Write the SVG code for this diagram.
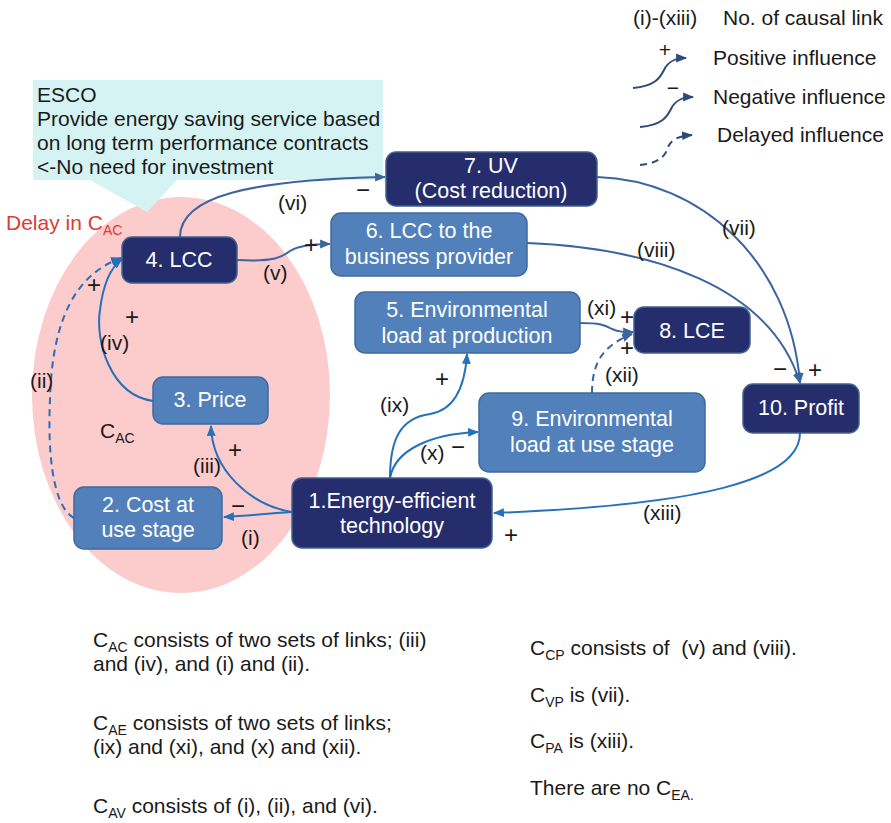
<svg xmlns="http://www.w3.org/2000/svg" width="891" height="823" viewBox="0 0 891 823">
  <defs>
    <marker id="ahA" markerUnits="userSpaceOnUse" markerWidth="11" markerHeight="11" viewBox="0 0 10 10" refX="9" refY="5" orient="auto">
      <path d="M0,1 L10,5 L0,9 z" fill="#3b64a0"/>
    </marker>
    <marker id="ahB" markerUnits="userSpaceOnUse" markerWidth="11" markerHeight="11" viewBox="0 0 10 10" refX="9" refY="5" orient="auto">
      <path d="M0,1 L10,5 L0,9 z" fill="#2471bc"/>
    </marker>
    <marker id="ahL" markerUnits="userSpaceOnUse" markerWidth="11" markerHeight="11" viewBox="0 0 10 10" refX="9" refY="5" orient="auto">
      <path d="M0,1 L10,5 L0,9 z" fill="#2c4b7b"/>
    </marker>
  </defs>
  <style>
    text { font-family: "Liberation Sans", Arial, sans-serif; font-size: 21px; fill: #1a1a1a; }
    .nt { fill: #ffffff; text-anchor: middle; font-size: 21.5px; }
    .pm { font-size: 24px; text-anchor: middle; }
    .dark { fill: #252d6c; stroke: #41608f; stroke-width: 1.5; }
    .mid { fill: #5180bb; stroke: #3f6a9e; stroke-width: 1.5; }
    .ca { fill: none; stroke: #3b64a0; stroke-width: 2; marker-end: url(#ahA); }
    .cb { fill: none; stroke: #2471bc; stroke-width: 2; marker-end: url(#ahB); }
    .dash { stroke-dasharray: 7 5; }
    .lg { fill: none; stroke: #2c4b7b; stroke-width: 2; marker-end: url(#ahL); }
    .sub { font-size: 14px; }
    .red { fill: #e03a2f; }
  </style>

  <!-- cluster background -->
  <ellipse cx="181" cy="395" rx="149" ry="198" fill="#fccbcb"/>

  <!-- ESCO callout -->
  <g id="esco">
    <path d="M33,80 H383 V180 H177 L147,212 L90,180 H33 Z" fill="#d6f3f3"/>
    <text x="37" y="102">ESCO</text>
    <text x="37" y="126">Provide energy saving service based</text>
    <text x="37" y="150">on long term performance contracts</text>
    <text x="37" y="174">&lt;-No need for investment</text>
  </g>

  <text x="6" y="230" class="red">Delay in C<tspan class="sub" dy="5">AC</tspan></text>
  <text x="100" y="438">C<tspan class="sub" dy="5">AC</tspan></text>

  <!-- legend -->
  <g id="legend">
    <text x="633" y="25">(i)-(xiii)</text>
    <text x="723" y="25">No. of causal link</text>
    <path class="lg" d="M633,88 C655,86 660,78 664,70 C668,62 674,58 686,58"/>
    <text x="665" y="57" font-size="15" text-anchor="middle">+</text>
    <text x="713" y="65">Positive influence</text>
    <path class="lg" d="M640,127 C662,125 667,117 671,109 C675,101 681,97 693,97"/>
    <text x="673" y="95" font-size="15" text-anchor="middle">−</text>
    <text x="713" y="104">Negative influence</text>
    <path class="lg dash" d="M640,165 C660,163 666,155 668,147 C671,140 678,136 692,135"/>
    <text x="717" y="142">Delayed influence</text>
  </g>

  <!-- connectors -->
  <g id="connectors">
    <!-- (vi) LCC -> UV -->
    <path class="ca" d="M180,237 C180,196 250,180 385,177"/>
    <!-- (v) LCC -> LCC to provider -->
    <path class="ca" d="M237,260 C275,262 282,257 290,251 C298,246 310,244 330,244"/>
    <!-- (vii) UV -> Profit -->
    <path class="ca" d="M597,177 C700,180 790,260 800,383"/>
    <!-- (viii) LCC to provider -> Profit -->
    <path class="ca" d="M527,243 C650,248 770,285 800,383"/>
    <!-- (xi) production load -> LCE -->
    <path class="ca" d="M580,323 C600,323 605,325 612,329 C619,332 624,332 633,332"/>
    <!-- (xii) use-stage load -> LCE (delayed) -->
    <path class="ca dash" d="M592,393 C592,360 605,345 632,334"/>
    <!-- (ix) technology -> production load -->
    <path class="cb" d="M390,478 C390,440 400,418 430,414 C455,410 465,385 467,354"/>
    <!-- (x) technology -> use-stage load -->
    <path class="cb" d="M390,478 C395,450 430,434 478,432"/>
    <!-- (xiii) Profit -> technology -->
    <path class="cb" d="M800,433 C800,480 700,505 494,513"/>
    <!-- (iii) technology -> Price -->
    <path class="cb" d="M292,512 C250,505 212,470 211,426"/>
    <!-- (i) technology -> cost at use stage -->
    <path class="cb" d="M292,512 C260,514 250,516 224,517"/>
    <!-- (iv) Price -> LCC -->
    <path class="cb" d="M153,401 C110,395 95,340 100,310 C103,285 110,268 122,259"/>
    <!-- (ii) cost at use stage -> LCC (delayed) -->
    <path class="cb dash" d="M74,518 C50,505 48,440 50,400 C52,320 75,275 121,258"/>
  </g>

  <!-- link labels and polarities -->
  <g id="link-labels">
    <text x="278" y="210">(vi)</text>
    <text class="pm" x="363" y="198">−</text>
    <text x="263" y="280">(v)</text>
    <text class="pm" x="311" y="253">+</text>
    <text x="722" y="235">(vii)</text>
    <text x="637" y="257">(viii)</text>
    <text class="pm" x="780" y="377">−</text>
    <text class="pm" x="815" y="378">+</text>
    <text x="587" y="315">(xi)</text>
    <text class="pm" x="627" y="325">+</text>
    <text class="pm" x="627" y="356">+</text>
    <text x="605" y="382">(xii)</text>
    <text x="380" y="412">(ix)</text>
    <text class="pm" x="442" y="387">+</text>
    <text x="420" y="460">(x)</text>
    <text class="pm" x="458" y="455">−</text>
    <text x="643" y="520">(xiii)</text>
    <text class="pm" x="511" y="543">+</text>
    <text x="193" y="473">(iii)</text>
    <text class="pm" x="235" y="458">+</text>
    <text class="pm" x="238" y="514">−</text>
    <text x="241" y="545">(i)</text>
    <text x="100" y="350">(iv)</text>
    <text class="pm" x="132" y="325">+</text>
    <text class="pm" x="94" y="293">+</text>
    <text x="30" y="388">(ii)</text>
  </g>

  <!-- nodes -->
  <g id="n1">
    <rect class="dark" x="292" y="478" width="200" height="70" rx="10"/>
    <text class="nt" x="392" y="508">1.Energy-efficient</text>
    <text class="nt" x="392" y="533">technology</text>
  </g>
  <g id="n2">
    <rect class="mid" x="74" y="487" width="148" height="62" rx="10"/>
    <text class="nt" x="148" y="512">2. Cost at</text>
    <text class="nt" x="148" y="537">use stage</text>
  </g>
  <g id="n3">
    <rect class="mid" x="153" y="377" width="115" height="47" rx="10"/>
    <text class="nt" x="210" y="407">3. Price</text>
  </g>
  <g id="n4">
    <rect class="dark" x="122" y="237" width="115" height="46" rx="10"/>
    <text class="nt" x="179" y="267">4. LCC</text>
  </g>
  <g id="n5">
    <rect class="mid" x="355" y="292" width="225" height="61" rx="10"/>
    <text class="nt" x="467" y="317">5. Environmental</text>
    <text class="nt" x="467" y="343">load at production</text>
  </g>
  <g id="n6">
    <rect class="mid" x="331" y="213" width="196" height="63" rx="10"/>
    <text class="nt" x="429" y="238">6. LCC to the</text>
    <text class="nt" x="429" y="264">business provider</text>
  </g>
  <g id="n7">
    <rect class="dark" x="386" y="152" width="211" height="54" rx="10"/>
    <text class="nt" x="491" y="173">7. UV</text>
    <text class="nt" x="491" y="198">(Cost reduction)</text>
  </g>
  <g id="n8">
    <rect class="dark" x="634" y="307" width="116" height="46" rx="10"/>
    <text class="nt" x="692" y="338">8. LCE</text>
  </g>
  <g id="n9">
    <rect class="mid" x="479" y="393" width="226" height="79" rx="10"/>
    <text class="nt" x="592" y="426">9. Environmental</text>
    <text class="nt" x="592" y="452">load at use stage</text>
  </g>
  <g id="n10">
    <rect class="dark" x="743" y="384" width="116" height="49" rx="10"/>
    <text class="nt" x="801" y="415">10. Profit</text>
  </g>

  <!-- notes -->
  <g id="notes">
    <text x="93" y="647">C<tspan class="sub" dy="5">AC</tspan><tspan dy="-5"> consists of two sets of links; (iii)</tspan></text>
    <text x="93" y="671">and (iv), and (i) and (ii).</text>
    <text x="93" y="730">C<tspan class="sub" dy="5">AE</tspan><tspan dy="-5"> consists of two sets of links;</tspan></text>
    <text x="93" y="754">(ix) and (xi),  and (x) and (xii).</text>
    <text x="93" y="813">C<tspan class="sub" dy="5">AV</tspan><tspan dy="-5"> consists of (i), (ii), and (vi).</tspan></text>
    <text x="530" y="655" xml:space="preserve">C<tspan class="sub" dy="5">CP</tspan><tspan dy="-5"> consists of  (v) and (viii).</tspan></text>
    <text x="530" y="702">C<tspan class="sub" dy="5">VP</tspan><tspan dy="-5"> is (vii).</tspan></text>
    <text x="530" y="748">C<tspan class="sub" dy="5">PA</tspan><tspan dy="-5"> is (xiii).</tspan></text>
    <text x="530" y="795">There are no C<tspan class="sub" dy="5">EA.</tspan></text>
  </g>
</svg>
